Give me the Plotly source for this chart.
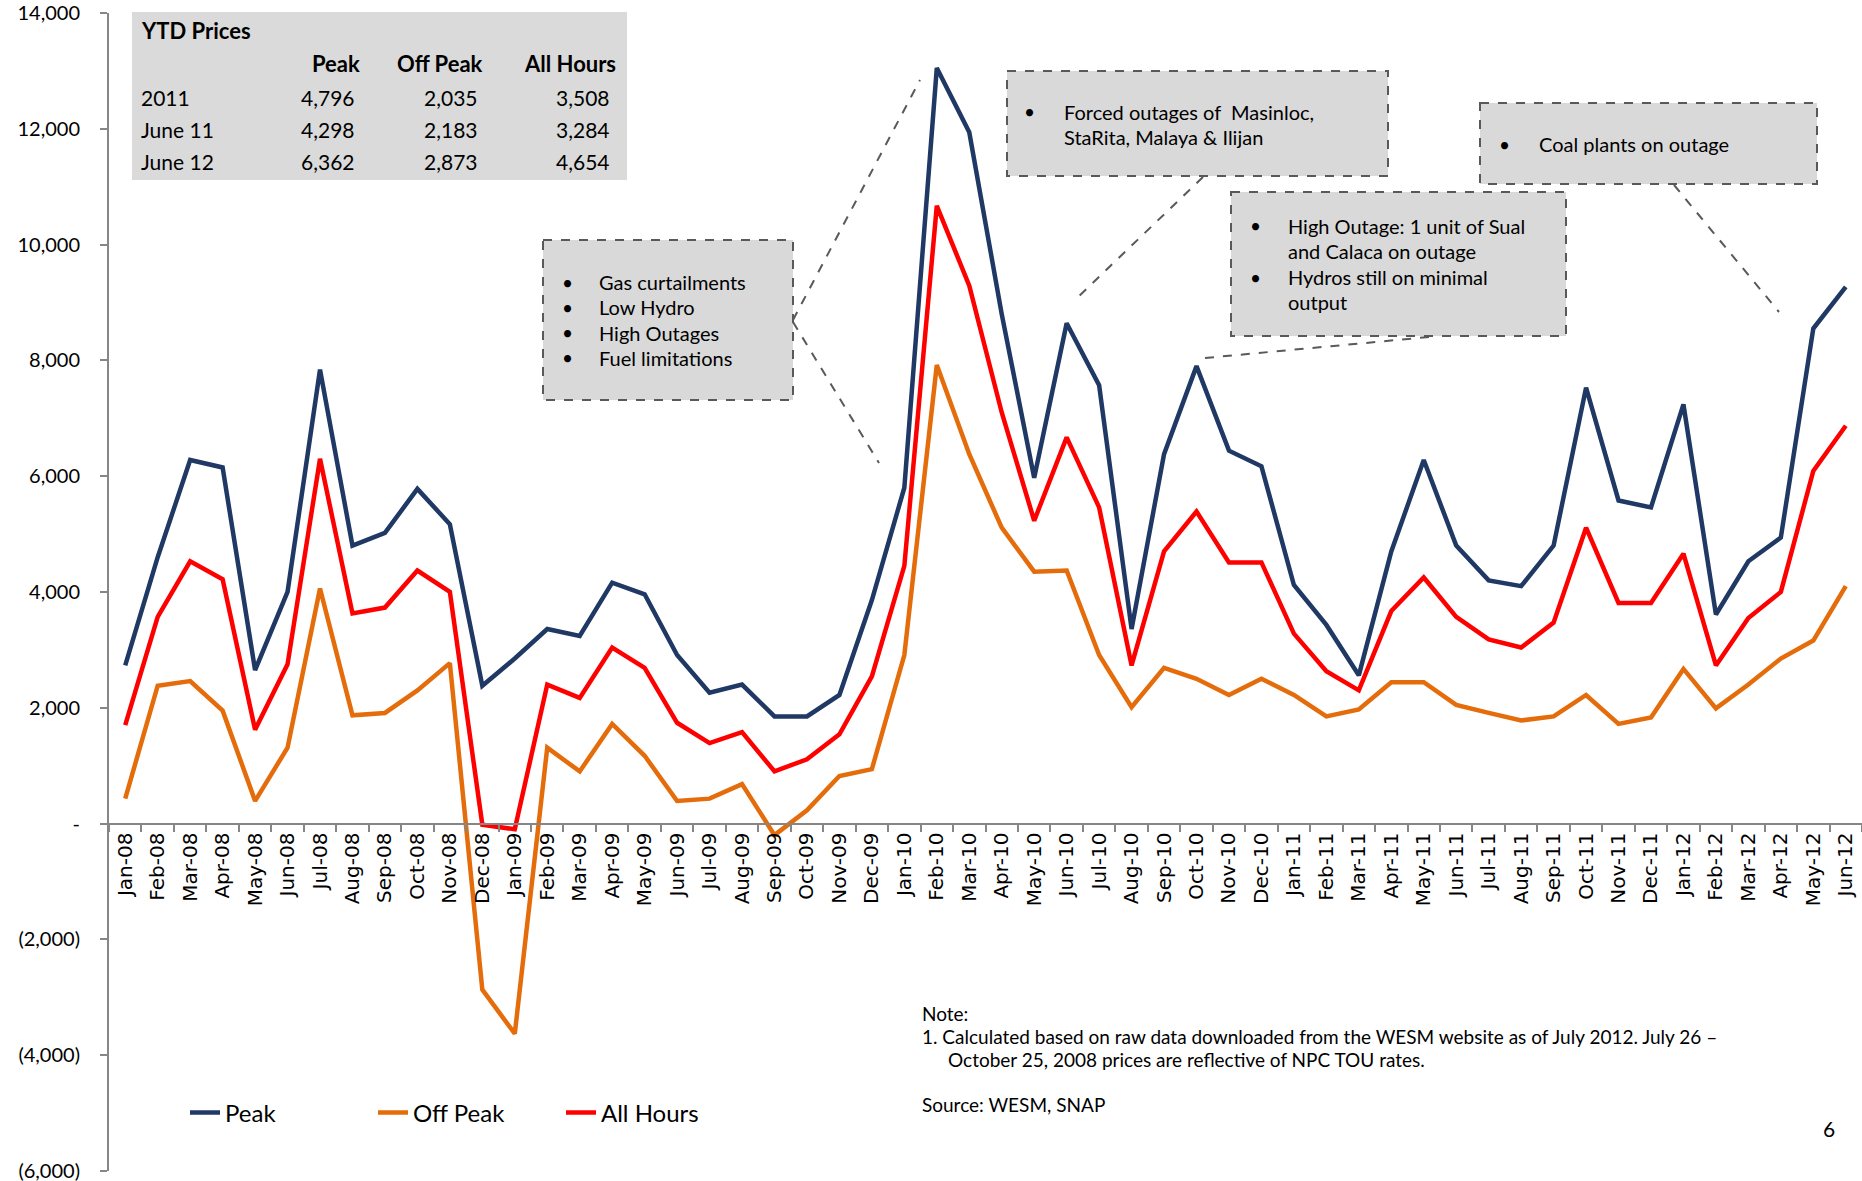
import plotly.graph_objects as go

months = ["Jan-08", "Feb-08", "Mar-08", "Apr-08", "May-08", "Jun-08", "Jul-08", "Aug-08", "Sep-08",
          "Oct-08", "Nov-08", "Dec-08", "Jan-09", "Feb-09", "Mar-09", "Apr-09", "May-09", "Jun-09",
          "Jul-09", "Aug-09", "Sep-09", "Oct-09", "Nov-09", "Dec-09", "Jan-10", "Feb-10", "Mar-10",
          "Apr-10", "May-10", "Jun-10", "Jul-10", "Aug-10", "Sep-10", "Oct-10", "Nov-10", "Dec-10",
          "Jan-11", "Feb-11", "Mar-11", "Apr-11", "May-11", "Jun-11", "Jul-11", "Aug-11", "Sep-11",
          "Oct-11", "Nov-11", "Dec-11", "Jan-12", "Feb-12", "Mar-12", "Apr-12", "May-12", "Jun-12"]

peak = [2730, 4600, 6280, 6150, 2650, 4000, 7840, 4800, 5020, 5780, 5170, 2380, 2850, 3360,
        3240, 4160, 3960, 2910, 2260, 2400, 1850, 1850, 2220, 3860, 5800, 13050, 11940, 8800,
        5970, 8640, 7570, 3360, 6380, 7900, 6440, 6170, 4120, 3430, 2560, 4700, 6280, 4800,
        4200, 4100, 4800, 7530, 5580, 5460, 7240, 3610, 4530, 4940, 8550, 9270]

off_peak = [430, 2380, 2460, 1950, 390, 1310, 4060, 1870, 1910, 2300, 2770, -2870, -3630, 1310,
            900, 1720, 1170, 390, 430, 680, -200, 230, 820, 940, 2910, 7920, 6380, 5110,
            4350, 4370, 2910, 2010, 2690, 2500, 2220, 2500, 2220, 1850, 1970, 2440, 2440, 2050,
            1910, 1780, 1850, 2220, 1720, 1830, 2670, 1990, 2400, 2850, 3160, 4100]

all_hours = [1700, 3570, 4530, 4220, 1620, 2750, 6300, 3630, 3730, 4370, 4000, -20, -100, 2400,
             2170, 3040, 2690, 1740, 1390, 1580, 900, 1110, 1540, 2540, 4450, 10670, 9290, 7100,
             5230, 6670, 5460, 2730, 4700, 5390, 4510, 4510, 3280, 2630, 2300, 3670, 4250, 3570,
             3180, 3040, 3470, 5110, 3810, 3810, 4660, 2730, 3550, 4000, 6090, 6870]

y_ticks = [-6000, -4000, -2000, 0, 2000, 4000, 6000, 8000, 10000, 12000, 14000]
y_tick_text = ["(6,000)", "(4,000)", "(2,000)", "-", "2,000", "4,000", "6,000", "8,000",
               "10,000", "12,000", "14,000"]

ytd_rows = ["2011", "June 11", "June 12"]
ytd_peak = ["4,796", "4,298", "6,362"]
ytd_off_peak = ["2,035", "2,183", "2,873"]
ytd_all_hours = ["3,508", "3,284", "4,654"]

W, H = 1862, 1181
L, R, T, B = 109, 0, 13, 10
TXT = "Lato, 'Open Sans', sans-serif"


def px(x):
    return (x - L) / (W - L - R)


def py(y):
    return (H - B - y) / (H - T - B)


fig = go.Figure()
fig.add_trace(go.Scatter(x=months, y=peak, mode="lines", name="Peak",
                         line=dict(color="#1f3864", width=4.5)))
fig.add_trace(go.Scatter(x=months, y=off_peak, mode="lines", name="Off Peak",
                         line=dict(color="#e46c0a", width=4.5)))
fig.add_trace(go.Scatter(x=months, y=all_hours, mode="lines", name="All Hours",
                         line=dict(color="#ff0000", width=4.5)))

shapes = []
annotations = []


def text(x, y, s, size=18, anchor="left", bold=False):
    annotations.append(dict(xref="paper", yref="paper", x=px(x), y=py(y), text=f"<b>{s}</b>" if bold else s,
                            showarrow=False, xanchor=anchor, yanchor="middle",
                            font=dict(family=TXT, size=size, color="#000000")))


def dashed(x0, y0, x1, y1):
    shapes.append(dict(type="line", xref="paper", yref="paper", x0=px(x0), y0=py(y0),
                       x1=px(x1), y1=py(y1), line=dict(color="#595959", width=2, dash="dash")))


def callout(x0, y0, x1, y1, bullet_x, text_x, lines):
    shapes.append(dict(type="rect", xref="paper", yref="paper", x0=px(x0), y0=py(y0),
                       x1=px(x1), y1=py(y1), fillcolor="#d9d9d9",
                       line=dict(color="#595959", width=2, dash="dash")))
    for y, s, bullet in lines:
        if bullet:
            text(bullet_x, y, "•", size=19, anchor="center")
        text(text_x, y, s, size=20)


# YTD table
shapes.append(dict(type="rect", xref="paper", yref="paper", x0=px(132), y0=py(12), x1=px(627), y1=py(180),
                   fillcolor="#dadada", line=dict(width=0)))
text(139, 30, "YTD Prices", size=22, bold=True)
text(362, 63, "Peak", size=22, anchor="right", bold=True)
text(485, 63, "Off Peak", size=22, anchor="right", bold=True)
text(618, 63, "All Hours", size=22, anchor="right", bold=True)
for i, row in enumerate(ytd_rows):
    yy = 97 + i * 32
    text(139, yy, row, size=21)
    text(357, yy, ytd_peak[i], size=21, anchor="right")
    text(480, yy, ytd_off_peak[i], size=21, anchor="right")
    text(612, yy, ytd_all_hours[i], size=21, anchor="right")

# callouts
callout(543, 240, 793, 400, 567, 597, [(282, "Gas curtailments", True), (307, "Low Hydro", True),
                                       (333, "High Outages", True), (358, "Fuel limitations", True)])
dashed(793, 320, 920, 80)
dashed(793, 322, 879, 463)

callout(1007, 71, 1388, 176, 1029, 1062, [(112, "Forced outages of  Masinloc,", True),
                                          (137, "StaRita, Malaya & Ilijan", False)])
dashed(1203, 177, 1076, 299)

callout(1231, 192, 1566, 336, 1255, 1286, [(226, "High Outage: 1 unit of Sual", True),
                                           (251, "and Calaca on outage", False),
                                           (277, "Hydros still on minimal", True),
                                           (302, "output", False)])
dashed(1429, 337, 1205, 358)

callout(1480, 103, 1817, 184, 1504, 1537, [(144, "Coal plants on outage", True)])
dashed(1674, 185, 1779, 312)

# notes
text(920, 1013, "Note:", size=19)
text(920, 1036, "1. Calculated based on raw data downloaded from the WESM website as of July 2012. July 26 –", size=19)
text(946, 1059, "October 25, 2008 prices are reflective of NPC TOU rates.", size=19)
text(920, 1104, "Source: WESM, SNAP", size=19)
text(1829, 1128, "6", size=21, anchor="center")

fig.update_layout(
    width=W, height=H,
    margin=dict(l=L, r=R, t=T, b=B),
    plot_bgcolor="white", paper_bgcolor="white",
    shapes=shapes, annotations=annotations,
    showlegend=True,
    legend=dict(orientation="h", x=px(185), y=py(1113), xanchor="left", yanchor="middle",
                font=dict(family=TXT, size=24, color="#000000"),
                entrywidth=143, entrywidthmode="pixels", bgcolor="rgba(0,0,0,0)"),
)
fig.update_xaxes(type="category", range=[-0.5, len(months) - 0.5], anchor="free", position=0.3,
                 showline=True, linecolor="#868686", linewidth=2, ticks="outside", tickson="boundaries",
                 ticklen=7, tickcolor="#868686", tickwidth=2, tickangle=-90, showgrid=False, zeroline=False,
                 tickfont=dict(family="DejaVu Sans", size=20, color="#000000"))
fig.update_yaxes(range=[-6002, 14000], tickvals=y_ticks, ticktext=y_tick_text, showline=True,
                 linecolor="#868686", linewidth=2, ticks="outside", ticklen=7, tickcolor="#868686",
                 tickwidth=2, showgrid=False, zeroline=False, ticklabelstandoff=16,
                 ticklabeloverflow="allow",
                 tickfont=dict(family=TXT, size=20, color="#000000"))

fig.write_html("out.html", config={"displayModeBar": False},
               post_script="document.body.style.margin='0';")
